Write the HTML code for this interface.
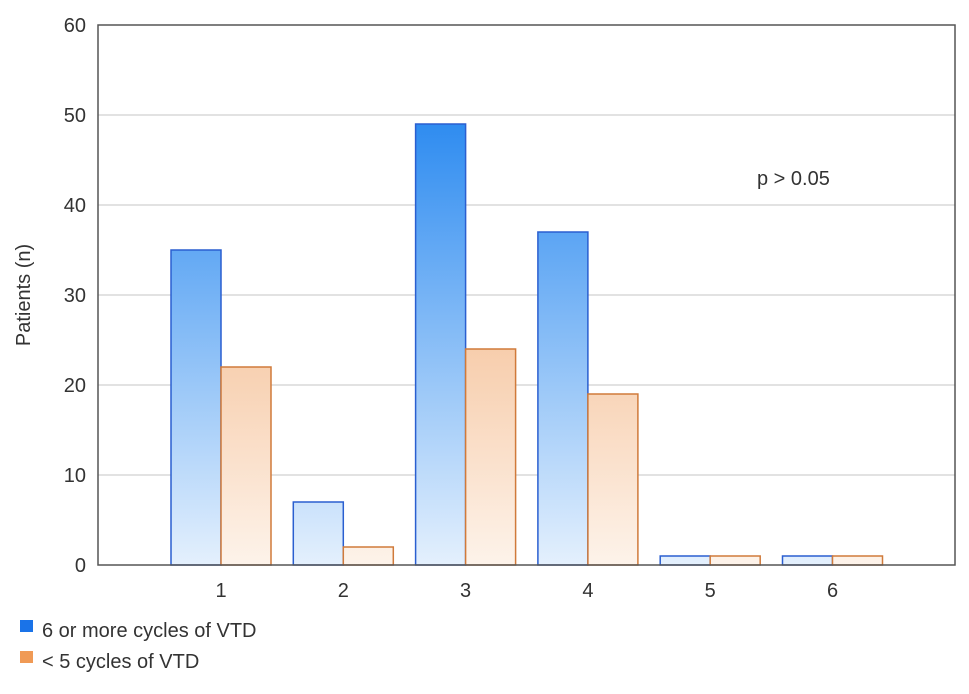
<!DOCTYPE html>
<html><head><meta charset="utf-8"><style>
body{margin:0;background:#fff;}
svg text{font-family:"Liberation Sans",Arial,sans-serif;fill:#333;}
</style></head><body>
<svg width="969" height="689" viewBox="0 0 969 689">
<defs>
<linearGradient id="gb" gradientUnits="userSpaceOnUse" x1="0" y1="115" x2="0" y2="565"><stop offset="0" stop-color="#2b8af0"/><stop offset="1" stop-color="#e4f0fd"/></linearGradient>
<linearGradient id="go" gradientUnits="userSpaceOnUse" x1="0" y1="115" x2="0" y2="565"><stop offset="0" stop-color="#f1a56a"/><stop offset="1" stop-color="#fdf3ea"/></linearGradient>
</defs>
<g id="grid"></g>
<g id="bars"></g>
<rect x="98" y="25" width="857" height="540" fill="none" stroke="#555" stroke-width="1.5"/>
<g id="axes"></g>
<text x="757" y="185" font-size="20">p &gt; 0.05</text>
<text transform="translate(30,295) rotate(-90)" font-size="20" text-anchor="middle">Patients (n)</text>
<rect x="20" y="620" width="13" height="12" fill="#1a73e8"/>
<text x="42" y="637" font-size="20">6 or more cycles of VTD</text>
<rect x="20" y="651" width="13" height="12" fill="#f09a55"/>
<text x="42" y="668" font-size="20">&lt; 5 cycles of VTD</text>
</svg>
<script>
const categories=["1","2","3","4","5","6"];
const blueValues=[35,7,49,37,1,1];
const orangeValues=[22,2,24,19,1,1];
const yTicks=[0,10,20,30,40,50,60];
const NS="http://www.w3.org/2000/svg";
function y(v){return 565-v*9;}
function xc(i){return 221+i*122.3;}
function mk(tag,a,parent){const e=document.createElementNS(NS,tag);for(const k in a)e.setAttribute(k,a[k]);document.getElementById(parent).appendChild(e);return e;}
yTicks.forEach(t=>{
  if(t>0&&t<60){const g=mk('line',{x1:98,x2:955,y1:y(t),y2:y(t),stroke:'#d8d8d8','stroke-width':1.5},'grid');
  
  }
  const tx=mk('text',{x:86,y:y(t)+7,'font-size':20,'text-anchor':'end'},'axes');tx.textContent=t;
  
  
});
categories.forEach((c,i)=>{
  const cx=xc(i);
  const b=mk('rect',{x:cx-50,y:y(blueValues[i]),width:50,height:blueValues[i]*9,fill:'url(#gb)',stroke:'#2a5fd0','stroke-width':1.5},'bars');
  
  
  const o=mk('rect',{x:cx,y:y(orangeValues[i]),width:50,height:orangeValues[i]*9,fill:'url(#go)',stroke:'#d07a3a','stroke-width':1.5},'bars');
  
  
  const t=mk('text',{x:cx,y:597,'font-size':20,'text-anchor':'middle'},'axes');t.textContent=c;
  
  
});
</script>
</body></html>
